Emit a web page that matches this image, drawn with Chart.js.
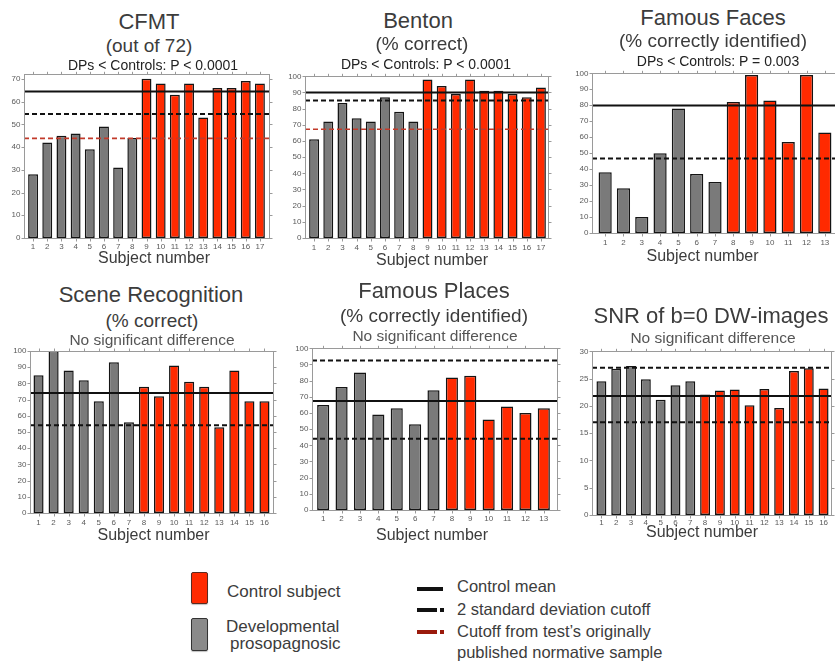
<!DOCTYPE html>
<html><head><meta charset="utf-8">
<script src="https://cdn.jsdelivr.net/npm/chart.js@4.4.1/dist/chart.umd.min.js"></script>
<style>
html,body{margin:0;padding:0;width:835px;height:665px;overflow:hidden;background:#fff;font-family:"Liberation Sans",Arial,sans-serif;}
.t{position:absolute;white-space:nowrap;line-height:1;color:#333;}
canvas{position:absolute;}
.sw{position:absolute;}
</style></head><body>
<script>
// ---------------- DATA ----------------
// CFMT (out of 72)
const cfmtSubjects = ['1','2','3','4','5','6','7','8','9','10','11','12','13','14','15','16','17'];
const cfmtDP = [28, 42, 45, 46, 39, 49, 31, 44];
const cfmtControls = [70, 68, 63, 68, 53, 66, 66, 69, 68];
const cfmtYTicks = [0, 10, 20, 30, 40, 50, 60, 70];
const cfmtMean = [64.4];
const cfmtCutoff2SD = [54.5];
const cfmtPublishedCutoff = [43.8];

// Benton (% correct)
const bentonSubjects = ['1','2','3','4','5','6','7','8','9','10','11','12','13','14','15','16','17'];
const bentonDP = [61, 72, 83.5, 74, 72, 87, 78, 72];
const bentonControls = [98, 94, 89, 98, 91, 91, 89, 87, 93];
const pctYTicks = [0, 10, 20, 30, 40, 50, 60, 70, 80, 90, 100];
const bentonMean = [90];
const bentonCutoff2SD = [85];
const bentonPublishedCutoff = [67.3];

// Famous Faces (% correctly identified)
const facesSubjects = ['1','2','3','4','5','6','7','8','9','10','11','12','13'];
const facesDP = [38, 28, 10, 50, 78, 37, 32];
const facesControls = [82, 99, 83, 57, 99, 63];
const facesMean = [79.8];
const facesCutoff2SD = [46.6];

// Scene Recognition (% correct)
const sceneSubjects = ['1','2','3','4','5','6','7','8','9','10','11','12','13','14','15','16'];
const sceneDP = [85, 100, 88, 82, 69, 93, 56];
const sceneControls = [78, 72, 91, 81, 78, 53, 88, 69, 69];
const sceneMean = [74];
const sceneCutoff2SD = [54.2];

// Famous Places (% correctly identified)
const placesSubjects = ['1','2','3','4','5','6','7','8','9','10','11','12','13'];
const placesDP = [65, 76, 85, 59, 63, 53, 74];
const placesControls = [82, 83, 56, 64, 60, 63];
const placesMean = [67.4];
const placesCutoff2SD = [44.1, 92.5];

// SNR of b=0 DW-images
const snrSubjects = ['1','2','3','4','5','6','7','8','9','10','11','12','13','14','15','16'];
const snrDP = [24.5, 26.8, 27.3, 24.9, 21.1, 23.8, 24.5];
const snrControls = [22.1, 22.8, 23.0, 20.1, 23.1, 19.6, 26.4, 26.9, 23.2];
const snrYTicks = [0, 5, 10, 15, 20, 25, 30];
const snrMean = [21.8];
const snrCutoff2SD = [17.0, 27.0];

// ---------------- STYLE ----------------
const FONT = '"Liberation Sans", Arial, sans-serif';
const DP_COLOR = '#7a7a7a';
const CTRL_COLOR = '#ff2a00';

function text(str, x, cy, size, opts = {}) {
  const d = document.createElement('div');
  d.className = 't';
  d.textContent = str;
  d.style.fontSize = size + 'px';
  d.style.top = (cy - 0.49 * size) + 'px';
  d.style.left = x + 'px';
  if (opts.center !== false) d.style.transform = 'translateX(-50%)';
  if (opts.color) d.style.color = opts.color;
  if (opts.weight) d.style.fontWeight = opts.weight;
  document.body.appendChild(d);
}

const framePlugin = {
  id: 'frame',
  afterDatasetsDraw(chart, args, o) {
    const ctx = chart.ctx;
    const a = chart.chartArea;
    const fl = a.left - o.padL, fr = a.right + o.padR;
    const ys = chart.scales.y, xs = chart.scales.x;
    ctx.save();
    const drawLine = (v, color, width, dash) => {
      const y = ys.getPixelForValue(v);
      ctx.beginPath();
      ctx.setLineDash(dash);
      ctx.strokeStyle = color;
      ctx.lineWidth = width;
      ctx.moveTo(fl, y); ctx.lineTo(fr, y);
      ctx.stroke();
    };
    (o.published || []).forEach(v => drawLine(v, '#c23a2a', 1.6, [5, 3]));
    (o.sd || []).forEach(v => drawLine(v, '#111', 2, [5, 3]));
    (o.mean || []).forEach(v => drawLine(v, '#111', 2, []));
    ctx.setLineDash([]);
    ctx.strokeStyle = '#9a9a9a';
    ctx.lineWidth = 1;
    ctx.strokeRect(Math.round(fl) + 0.5, Math.round(a.top) + 0.5, Math.round(fr - fl), Math.round(a.bottom - a.top));
    ctx.beginPath();
    ys.ticks.forEach(t => {
      const y = Math.round(ys.getPixelForValue(t.value)) + 0.5;
      ctx.moveTo(fl - 2.5, y); ctx.lineTo(fl, y);
      ctx.moveTo(fr + 1, y); ctx.lineTo(fr + 3.5, y);
    });
    xs.ticks.forEach((t, i) => {
      const x = Math.round(xs.getPixelForTick(i)) + 0.5;
      ctx.moveTo(x, a.bottom + 1); ctx.lineTo(x, a.bottom + 3.5);
      ctx.moveTo(x, a.top); ctx.lineTo(x, a.top - 2.5);
    });
    ctx.stroke();
    ctx.restore();
  }
};

function panel(p) {
  const W = (p.caR - p.caL) + 50, H = (p.caB - p.caT) + 40;
  const c = document.createElement('canvas');
  c.width = W; c.height = H;
  c.style.left = (p.caL - 40) + 'px';
  c.style.top = (p.caT - 10) + 'px';
  c.style.width = W + 'px'; c.style.height = H + 'px';
  document.body.appendChild(c);
  const dpData = p.subjects.map((s, i) => i < p.dp.length ? p.dp[i] : null);
  const ctrlData = p.subjects.map((s, i) => i >= p.dp.length ? p.ctrl[i - p.dp.length] : null);
  const ds = (label, data, color) => ({
    label, data, backgroundColor: color, borderColor: '#141414', borderWidth: 1.5,
    borderSkipped: false, grouped: false, barPercentage: p.bar, categoryPercentage: 1
  });
  new Chart(c, {
    type: 'bar',
    data: {
      labels: p.subjects,
      datasets: [ds('Developmental prosopagnosic', dpData, DP_COLOR), ds('Control subject', ctrlData, CTRL_COLOR)]
    },
    options: {
      responsive: false, animation: false, devicePixelRatio: 1,
      layout: { padding: { left: 0, top: 10, right: 10, bottom: 0 } },
      plugins: {
        legend: { display: false }, title: { display: false }, tooltip: { enabled: false },
        frame: { padL: p.padL, padR: p.padR, mean: p.mean, sd: p.sd, published: p.published }
      },
      scales: {
        x: {
          type: 'category', offset: true,
          grid: { display: false, drawTicks: false, tickLength: 0 },
          border: { display: false },
          ticks: { autoSkip: false, maxRotation: 0, minRotation: 0, padding: p.xPad, color: '#5a5a5a', font: { family: FONT, size: 8 } },
          afterFit(a) { a.height = 30; }
        },
        y: {
          min: 0, max: p.yMax,
          grid: { display: false, drawTicks: false, tickLength: 0 },
          border: { display: false },
          ticks: { padding: p.padL + 3.5, color: '#5a5a5a', font: { family: FONT, size: 8 } },
          afterBuildTicks(a) { a.ticks = p.yTicks.map(v => ({ value: v })); },
          afterFit(a) { a.width = 40; }
        }
      }
    },
    plugins: [framePlugin]
  });
}

panel({ subjects: cfmtSubjects, dp: cfmtDP, ctrl: cfmtControls, yMax: 72, yTicks: cfmtYTicks,
  mean: cfmtMean, sd: cfmtCutoff2SD, published: cfmtPublishedCutoff,
  caL: 26, caR: 267, caT: 74, caB: 238, padL: 2, padR: 2, bar: 0.7, xPad: 4 });
panel({ subjects: bentonSubjects, dp: bentonDP, ctrl: bentonControls, yMax: 100, yTicks: pctYTicks,
  mean: bentonMean, sd: bentonCutoff2SD, published: bentonPublishedCutoff,
  caL: 307, caR: 548, caT: 76, caB: 238, padL: 2, padR: 0, bar: 0.7, xPad: 4.5 });
panel({ subjects: facesSubjects, dp: facesDP, ctrl: facesControls, yMax: 100, yTicks: pctYTicks,
  mean: facesMean, sd: facesCutoff2SD,
  caL: 596, caR: 834, caT: 71, caB: 233, padL: 4, padR: 4, bar: 0.72, xPad: 4.5 });
panel({ subjects: sceneSubjects, dp: sceneDP, ctrl: sceneControls, yMax: 100, yTicks: pctYTicks,
  mean: sceneMean, sd: sceneCutoff2SD,
  caL: 31, caR: 272, caT: 351, caB: 513, padL: 1, padR: 1, bar: 0.67, xPad: 4.5 });
panel({ subjects: placesSubjects, dp: placesDP, ctrl: placesControls, yMax: 100, yTicks: pctYTicks,
  mean: placesMean, sd: placesCutoff2SD,
  caL: 314, caR: 553, caT: 348, caB: 510, padL: 2, padR: 4, bar: 0.66, xPad: 4 });
panel({ subjects: snrSubjects, dp: snrDP, ctrl: snrControls, yMax: 30, yTicks: snrYTicks,
  mean: snrMean, sd: snrCutoff2SD,
  caL: 594, caR: 831, caT: 351, caB: 515, padL: 2, padR: 0, bar: 0.67, xPad: 2.5 });

// ---------------- TITLES ----------------
const TC = '#3c3c3c', SC = '#222', NC = '#555';
text('CFMT', 149, 21.5, 22, { color: TC });
text('(out of 72)', 149, 45.5, 19, { color: TC });
text('DPs < Controls: P < 0.0001', 153, 64.5, 14, { color: SC });
text('Benton', 418, 20.5, 22, { color: TC });
text('(% correct)', 422, 43.5, 19, { color: TC });
text('DPs < Controls: P < 0.0001', 426, 64, 14, { color: SC });
text('Famous Faces', 713, 17.5, 22, { color: TC });
text('(% correctly identified)', 713, 40.5, 19, { color: TC });
text('DPs < Controls: P = 0.003', 718, 61, 14, { color: SC });
text('Scene Recognition', 151, 294.5, 22, { color: TC });
text('(% correct)', 152, 320, 19, { color: TC });
text('No significant difference', 152, 339.5, 15.5, { color: NC });
text('Famous Places', 434, 291, 22, { color: TC });
text('(% correctly identified)', 434, 315, 19, { color: TC });
text('No significant difference', 435, 336, 15.5, { color: NC });
text('SNR of b=0 DW-images', 711, 316, 22, { color: TC });
text('No significant difference', 713, 338, 15.5, { color: NC });
// axis titles
text('Subject number', 154, 258, 16, { color: TC });
text('Subject number', 432, 260, 16, { color: TC });
text('Subject number', 702.5, 255.5, 16, { color: TC });
text('Subject number', 153.5, 535, 16, { color: TC });
text('Subject number', 432, 535, 16, { color: TC });
text('Subject number', 702, 532, 16, { color: TC });

// ---------------- LEGEND ----------------
function box(x, y, w, h, css) {
  const d = document.createElement('div');
  d.className = 'sw';
  d.style.left = x + 'px'; d.style.top = y + 'px';
  d.style.width = w + 'px'; d.style.height = h + 'px';
  Object.assign(d.style, css);
  document.body.appendChild(d);
}
box(191, 572, 15, 30, { background: CTRL_COLOR, border: '1px solid #5a2a20', borderRadius: '2px', boxShadow: '0 1px 1px rgba(0,0,0,0.25)' });
box(191, 618, 15, 31, { background: '#8a8a8a', border: '1px solid #333', borderRadius: '2px', boxShadow: '0 1px 1px rgba(0,0,0,0.25)' });
text('Control subject', 227, 591, 17, { center: false, color: TC });
text('Developmental', 226, 626.7, 17, { center: false, color: TC });
text('prosopagnosic', 230, 643.5, 17, { center: false, color: TC });
box(417, 586.5, 26, 4, { background: '#111' });
box(417, 607.7, 20, 4, { background: '#111' });
box(440, 607.7, 4, 4, { background: '#111' });
box(417, 629.7, 20, 4, { background: '#9a1a0c' });
box(440, 629.7, 4, 4, { background: '#9a1a0c' });
text('Control mean', 457, 586.5, 16.5, { center: false, color: TC });
text('2 standard deviation cutoff', 457, 609, 16.5, { center: false, color: TC });
text('Cutoff from test\u2019s originally', 457, 631.5, 16.5, { center: false, color: TC });
text('published normative sample', 457, 651.7, 16.5, { center: false, color: TC });
</script>
</body></html>
